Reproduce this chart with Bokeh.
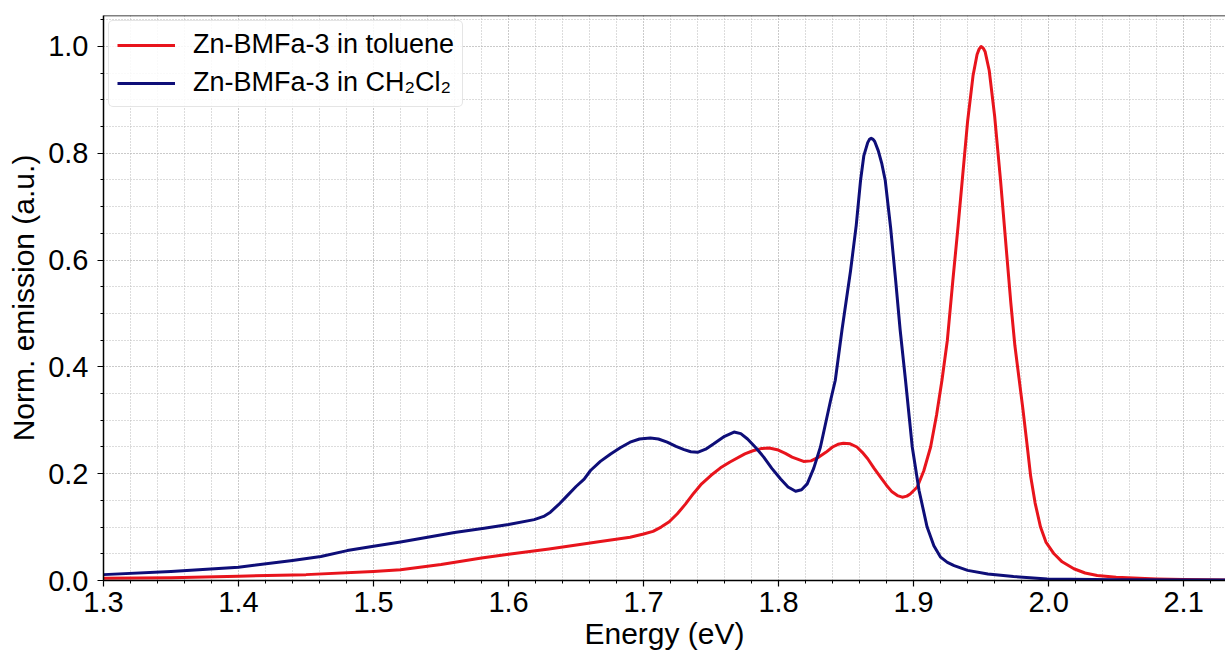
from bokeh.plotting import figure
from bokeh.models import (SingleIntervalTicker, NumeralTickFormatter, Span, Legend, LegendItem)
from bokeh.embed import file_html
from bokeh.resources import INLINE

# Zn-BMFa-3 in toluene
tol_energy = [1.30, 1.35, 1.40, 1.45, 1.50, 1.52, 1.55, 1.58, 1.60, 1.63, 1.668, 1.69, 1.70,
              1.707, 1.713, 1.719, 1.725, 1.731, 1.737, 1.743, 1.750, 1.757, 1.764, 1.775,
              1.781, 1.787, 1.793, 1.799, 1.805, 1.810, 1.8185, 1.824, 1.829, 1.835, 1.840,
              1.844, 1.848, 1.853, 1.858, 1.862, 1.866, 1.8705, 1.8756, 1.880, 1.884, 1.888,
              1.8916, 1.895, 1.8975, 1.9027, 1.9075, 1.9126, 1.917, 1.921, 1.925, 1.929,
              1.933, 1.936, 1.940, 1.944, 1.947, 1.9485, 1.950, 1.9515, 1.953, 1.956, 1.960,
              1.9644, 1.968, 1.972, 1.975, 1.978, 1.981, 1.984, 1.9867, 1.990, 1.994, 1.998,
              2.004, 2.010, 2.0187, 2.027, 2.036, 2.05, 2.08, 2.10, 2.135]
tol_emission = [0.004, 0.005, 0.008, 0.011, 0.017, 0.020, 0.030, 0.042, 0.049, 0.059, 0.073, 0.081, 0.087,
                0.092, 0.100, 0.110, 0.125, 0.143, 0.163, 0.181, 0.197, 0.211, 0.222, 0.237,
                0.243, 0.247, 0.248, 0.245, 0.238, 0.231, 0.223, 0.224, 0.230, 0.240, 0.250,
                0.255, 0.257, 0.256, 0.250, 0.240, 0.228, 0.211, 0.193, 0.178, 0.166, 0.159,
                0.156, 0.158, 0.162, 0.175, 0.205, 0.250, 0.310, 0.375, 0.450, 0.560,
                0.665, 0.749, 0.860, 0.945, 0.985, 0.995, 1.000, 0.997, 0.990, 0.955, 0.870,
                0.749, 0.640, 0.520, 0.440, 0.380, 0.320, 0.255, 0.195, 0.145, 0.100, 0.072,
                0.050, 0.035, 0.022, 0.014, 0.0094, 0.006, 0.003, 0.002, 0.001]

# Zn-BMFa-3 in CH2Cl2
dcm_energy = [1.30, 1.35, 1.40, 1.44, 1.461, 1.4805, 1.50, 1.52, 1.54, 1.56, 1.582, 1.60, 1.619,
              1.626, 1.631, 1.637, 1.6435, 1.650, 1.656, 1.6607, 1.668, 1.6756, 1.683, 1.690,
              1.697, 1.705, 1.711, 1.7175, 1.724, 1.730, 1.735, 1.740, 1.746, 1.752, 1.760,
              1.767, 1.772, 1.777, 1.783, 1.789, 1.795, 1.8015, 1.807, 1.8126, 1.817, 1.8212,
              1.826, 1.831, 1.8385, 1.842, 1.847, 1.8533, 1.8575, 1.8607, 1.8631, 1.866,
              1.8673, 1.8686, 1.870, 1.8712, 1.8738, 1.8765, 1.879, 1.883, 1.8867, 1.890, 1.894,
              1.899, 1.904, 1.910, 1.915, 1.920, 1.925, 1.930, 1.940, 1.955, 1.974, 1.999, 2.05, 2.135]
dcm_emission = [0.011, 0.017, 0.025, 0.0375, 0.045, 0.056, 0.064, 0.072, 0.081, 0.090, 0.098, 0.105, 0.114,
                0.120, 0.128, 0.142, 0.159, 0.176, 0.190, 0.206, 0.223, 0.237, 0.249, 0.259,
                0.265, 0.267, 0.265, 0.259, 0.251, 0.245, 0.241, 0.240, 0.246, 0.256, 0.270,
                0.278, 0.275, 0.265, 0.249, 0.231, 0.210, 0.190, 0.175, 0.167, 0.170, 0.181,
                0.210, 0.250, 0.337, 0.375, 0.470, 0.580, 0.665, 0.749, 0.795, 0.820,
                0.826, 0.828, 0.826, 0.822, 0.805, 0.780, 0.749, 0.660, 0.562, 0.470, 0.375,
                0.250, 0.169, 0.100, 0.065, 0.0437, 0.034, 0.028, 0.019, 0.012, 0.0075, 0.003, 0.0015, 0.001]

series_labels = ["Zn-BMFa-3 in toluene", "Zn-BMFa-3 in CH\u2082Cl\u2082"]
x_label = "Energy (eV)"
y_label = "Norm. emission (a.u.)"

FONT = "Liberation Sans"
RED = "#e8141c"
NAVY = "#0e0e78"

X_START, X_END = 1.3, 2.131
Y_START, Y_TOP = 0.0, 1.058

p = figure(width=1225, height=655, output_backend="svg", toolbar_location=None,
           x_range=(X_START, X_END), y_range=(Y_START, Y_TOP),
           min_border_left=103, min_border_right=0, min_border_top=15, min_border_bottom=75)
p.outline_line_color = None
p.background_fill_color = "white"
p.border_fill_color = "white"

r1 = p.line(tol_energy, tol_emission, line_color=RED, line_width=3, line_join="round")
r2 = p.line(dcm_energy, dcm_emission, line_color=NAVY, line_width=3, line_join="round")

p.xaxis.ticker = SingleIntervalTicker(interval=0.1, num_minor_ticks=5)
p.yaxis.ticker = SingleIntervalTicker(interval=0.2, num_minor_ticks=4)
p.xaxis.formatter = NumeralTickFormatter(format="0.0")
p.yaxis.formatter = NumeralTickFormatter(format="0.0")

for ax in (p.xaxis[0], p.yaxis[0]):
    ax.axis_line_color = "black"
    ax.axis_line_width = 1.5
    ax.major_tick_line_color = "black"
    ax.minor_tick_line_color = "black"
    ax.major_tick_line_width = 1.2
    ax.minor_tick_line_width = 1
    ax.major_tick_out = 6
    ax.major_tick_in = 0
    ax.minor_tick_out = 3
    ax.minor_tick_in = 0
    ax.major_label_text_font = FONT
    ax.major_label_text_font_size = "29px"
    ax.major_label_text_color = "black"
    ax.axis_label_text_font = FONT
    ax.axis_label_text_font_size = "30px"
    ax.axis_label_text_font_style = "normal"
    ax.axis_label_text_color = "black"

p.xaxis.axis_label = x_label
p.yaxis.axis_label = y_label
p.xaxis.major_label_standoff = 5
p.xaxis.axis_label_standoff = 2
p.yaxis.major_label_standoff = 9
p.yaxis.axis_label_standoff = 5

for g in (p.xgrid[0], p.ygrid[0]):
    g.grid_line_color = "#b8b8b8"
    g.grid_line_dash = "1 2"
    g.grid_line_width = 1
    g.minor_grid_line_color = "#b8b8b8"
    g.minor_grid_line_dash = "1 2"
    g.minor_grid_line_width = 1

p.add_layout(Span(location=Y_TOP, dimension="width", line_color="black", line_width=1.5))

legend = Legend(items=[LegendItem(label=series_labels[0], renderers=[r1]),
                       LegendItem(label=series_labels[1], renderers=[r2])],
                location="top_left")
legend.label_text_font = FONT
legend.label_text_font_size = "27px"
legend.label_text_color = "black"
legend.glyph_width = 58
legend.glyph_height = 30
legend.label_height = 30
legend.label_standoff = 18
legend.spacing = 7
legend.padding = 8
legend.margin = 5
legend.border_line_color = "#cccccc"
legend.border_line_width = 1
legend.background_fill_color = "white"
legend.background_fill_alpha = 0.85
if "border_radius" in Legend.properties():
    legend.border_radius = 5
p.add_layout(legend)

open("out.html", "w").write(file_html(p, INLINE))
